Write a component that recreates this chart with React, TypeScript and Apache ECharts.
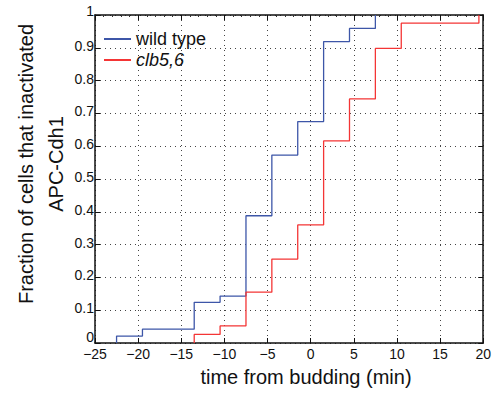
import React, { useEffect, useRef } from "react";
import * as echarts from "echarts";

const wildTimes = [-22.5, -19.5, -13.5, -10.5, -7.5, -4.5, -1.5, 1.5, 4.5, 7.5];
const wildFrac = [0.021, 0.042, 0.124, 0.143, 0.388, 0.573, 0.675, 0.919, 0.959, 1.0];
const clbTimes = [-13.5, -10.5, -7.5, -4.5, -1.5, 1.5, 4.5, 7.5, 10.5, 19.5];
const clbFrac = [0.026, 0.052, 0.155, 0.256, 0.36, 0.616, 0.744, 0.898, 0.975, 1.0];
const seriesNames = ["wild type", "clb5,6"];
const xTitle = "time from budding (min)";
const yTitleLines = ["Fraction of cells that inactivated", "APC-Cdh1"];

const FONT = "Liberation Sans, Arial, Helvetica, sans-serif";

function stepData(times: number[], vals: number[]) {
  const d: number[][] = [[times[0], 0]];
  times.forEach((t, i) => d.push([t, vals[i]]));
  return d;
}

export default function App() {
  const ref = useRef<HTMLDivElement>(null);
  useEffect(() => {
    if (!ref.current) return;
    const chart = echarts.init(ref.current, null, { renderer: "svg" });
    const gridLine = { show: true, lineStyle: { color: "#444", width: 1, type: [1, 4] as any } };
    const lblBase = { fontFamily: FONT, fontSize: 14, color: "#111" };
    chart.setOption({
      animation: false,
      backgroundColor: "#fff",
      grid: { left: 95, right: 9, top: 15, bottom: 53, show: false },
      legend: {
        left: 104,
        top: 30,
        orient: "vertical",
        padding: 0,
        itemGap: 3,
        itemWidth: 27,
        itemHeight: 2,
        icon: "rect",
        data: seriesNames,
        formatter: (n: string) => (n === seriesNames[1] ? "{i|" + n + "}" : "{n|" + n + "}"),
        textStyle: {
          fontFamily: FONT,
          fontSize: 18,
          color: "#111",
          rich: {
            n: { fontFamily: FONT, fontSize: 18, color: "#111", lineHeight: 19 },
            i: { fontFamily: FONT, fontSize: 18, color: "#111", fontStyle: "italic", lineHeight: 19 },
          },
        },
      },
      xAxis: [
        {
          type: "value",
          min: -25,
          max: 20,
          interval: 5,
          axisLine: { show: true, onZero: false, lineStyle: { color: "#111", width: 1.5 } },
          axisTick: { show: true, inside: true, length: 5, lineStyle: { color: "#111" } },
          axisLabel: {
            margin: 4,
            ...lblBase,
            formatter: (v: number) => String(v).replace("-", "\u2212"),
          },
          splitLine: gridLine,
        },
        {
          type: "value",
          position: "top",
          min: -25,
          max: 20,
          interval: 5,
          axisLine: { show: true, onZero: false, lineStyle: { color: "#111", width: 1.5 } },
          axisTick: { show: true, inside: true, length: 5, lineStyle: { color: "#111" } },
          minorTick: { show: true, splitNumber: 5, length: 2, lineStyle: { color: "#333" } },
          axisLabel: { show: false },
          splitLine: { show: false },
        },
      ],
      yAxis: [
        {
          type: "value",
          min: 0,
          max: 1,
          interval: 0.1,
          axisLine: { show: true, onZero: false, lineStyle: { color: "#111", width: 1.5 } },
          axisTick: { show: true, inside: true, length: 5, lineStyle: { color: "#111" } },
          axisLabel: {
            margin: 1,
            ...lblBase,
            formatter: (v: number) => {
              if (v === 0) return "{z|0}";
              if (v === 1) return "{t|1}";
              return "{m|" + String(Math.round(v * 10) / 10) + "}";
            },
            rich: {
              z: { ...lblBase, padding: [0, 0, 12, 0] },
              t: { ...lblBase, padding: [0, 0, 8, 0] },
              m: { ...lblBase, padding: [0, 0, 4, 0] },
            },
          },
          splitLine: gridLine,
        },
        {
          type: "value",
          position: "right",
          min: 0,
          max: 1,
          interval: 0.1,
          axisLine: { show: true, onZero: false, lineStyle: { color: "#111", width: 1.5 } },
          axisTick: { show: true, inside: true, length: 5, lineStyle: { color: "#111" } },
          axisLabel: { show: false },
          splitLine: { show: false },
        },
      ],
      series: [
        {
          name: seriesNames[0],
          type: "line",
          step: "end",
          symbol: "none",
          color: "#3d56a8",
          lineStyle: { width: 1.3, color: "#3d56a8" },
          data: stepData(wildTimes, wildFrac),
          z: 3,
        },
        {
          name: seriesNames[1],
          type: "line",
          step: "end",
          symbol: "none",
          color: "#f43535",
          lineStyle: { width: 1.3, color: "#f43535" },
          data: stepData(clbTimes, clbFrac),
          z: 3,
        },
      ],
      graphic: [
        {
          type: "text",
          x: 306,
          y: 377,
          style: {
            text: xTitle,
            fontFamily: FONT,
            fontSize: 20,
            fill: "#111",
            align: "center",
            verticalAlign: "middle",
          },
        },
        {
          type: "text",
          x: 26,
          y: 164,
          rotation: Math.PI / 2,
          style: {
            text: yTitleLines[0],
            fontFamily: FONT,
            fontSize: 20,
            fill: "#111",
            align: "center",
            verticalAlign: "middle",
          },
        },
        {
          type: "text",
          x: 56,
          y: 164,
          rotation: Math.PI / 2,
          style: {
            text: yTitleLines[1],
            fontFamily: FONT,
            fontSize: 20,
            fill: "#111",
            align: "center",
            verticalAlign: "middle",
          },
        },
      ],
    });
    return () => chart.dispose();
  }, []);
  return <div ref={ref} style={{ width: 494, height: 396, position: "absolute", left: 0, top: 0 }} />;
}
